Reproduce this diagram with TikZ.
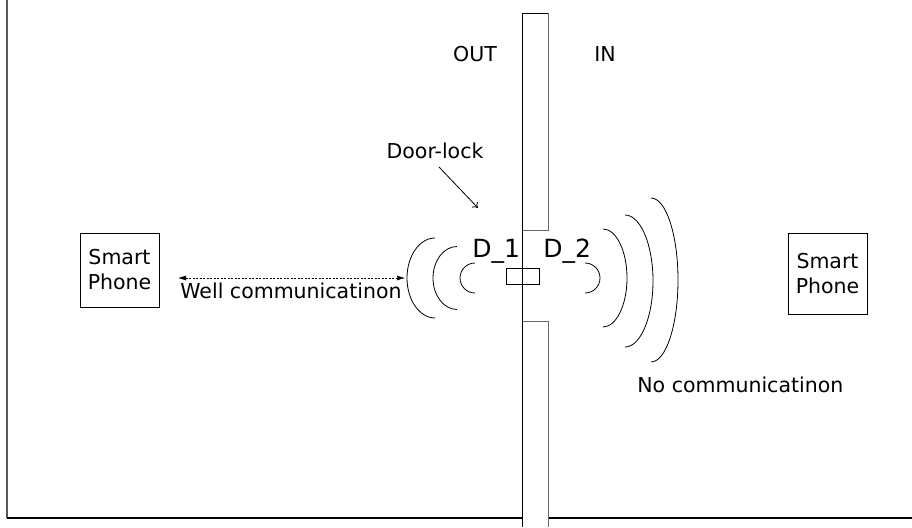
\documentclass[tikz,border=0pt]{standalone}
\usepackage{fontspec}
\setmainfont{DejaVu Sans}
\usetikzlibrary{arrows.meta}

\begin{document}
\begin{tikzpicture}[x=1pt,y=-1pt, line width=0.8pt,
    lbl/.style={font=\fontsize{20.5}{25}\selectfont, inner sep=0pt, anchor=base},
    phone/.style={draw, align=center, inner sep=0pt, font=\fontsize{20.5}{25}\selectfont, minimum width=79pt}]
    \useasboundingbox (0,0) rectangle (912,527);
    \draw[gray!70!black, line width=1.5pt] (7,0) -- (7,518);
    \draw[line width=1.3pt] (7,518) -- (522.5,518);
    \draw[line width=1.3pt] (548,518) -- (912,518);
    \draw (522.5,527) -- (522.5,13) -- (548,13);
    \draw[gray!80!black] (548,13) -- (548,230) -- (522.5,230);
    \draw[gray!80!black] (522.5,321) -- (548,321) -- (548,527);
    \begin{scope}[every node/.style={lbl}]
        \node (out) at (475,62) {OUT};
        \node (in) at (605,62) {IN};
        \node (doorlock) at (435,158) {Door-lock};
        \node[anchor=base west, font=\fontsize{25}{30}\selectfont] (d1) at (472,257) {D\_1};
        \node[anchor=base west, font=\fontsize{25}{30}\selectfont] (d2) at (543,257) {D\_2};
        \node[anchor=base west] (well) at (180,298) {Well communicatinon};
        \node[anchor=base west] (nocomm) at (637,392) {No communicatinon};
    \end{scope}
    \node[phone, minimum height=74pt] (phoneL) at (119.5,270) {Smart\\Phone};
    \node[phone, minimum height=81pt] (phoneR) at (827.5,273.5) {Smart\\Phone};
    \node[draw, minimum width=33pt, minimum height=16pt, inner sep=0pt] (lock) at (522.5,276) {};
    \coordinate (dltail) at (439,167);
    \coordinate (dlhead) at (478,208);
    \draw[-{To[length=5pt,width=8pt]}] (dltail) -- (dlhead);
    \coordinate (wl) at (178,278);
    \coordinate (wr) at (405,278);
    \draw[line width=0.6pt, dash pattern=on 2pt off 1.5pt, {Latex[length=8pt,width=5pt]}-{Latex[length=8pt,width=5pt]}] (wl) -- (wr);
    \foreach \cx/\rx/\ry in {475/15/15, 457/24/31.5, 435/28/40}
        \draw (\cx,278-\ry) arc[start angle=90, end angle=270, x radius=\rx pt, y radius=\ry pt];
    \foreach \cx/\cy/\rx/\ry in {585/278/15/15, 603/278/24/49, 625/281/28/66, 651/280/27/82}
        \draw (\cx,\cy-\ry) arc[start angle=90, end angle=-90, x radius=\rx pt, y radius=\ry pt];
\end{tikzpicture}
\end{document}
